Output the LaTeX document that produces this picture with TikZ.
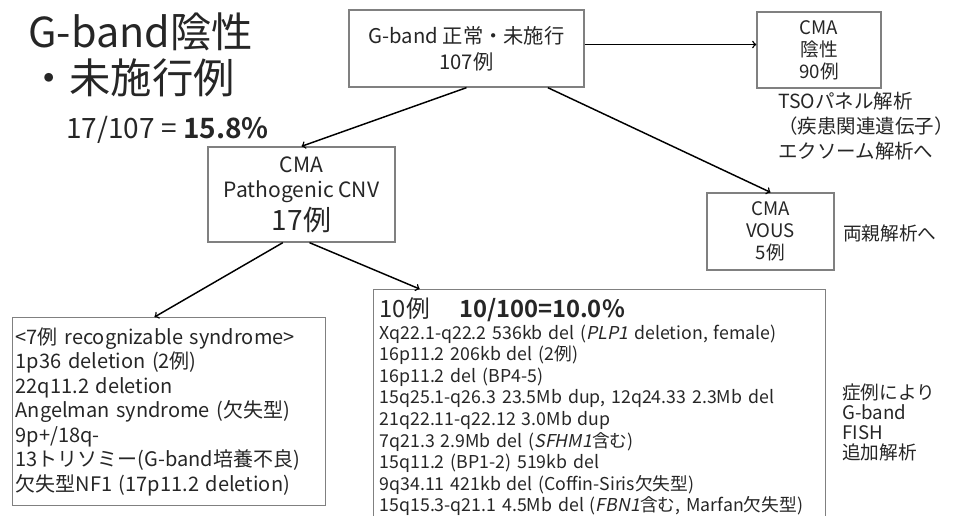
\documentclass[tikz,border=0pt]{standalone}
\usepackage{fontspec}
\setmainfont{Noto Sans CJK JP}[
  BoldFont={Noto Sans CJK JP Bold},
  ItalicFont={Noto Sans CJK JP},
  ItalicFeatures={FakeSlant=0.2}]
\newlength{\px}
\setlength{\px}{0.75pt}

\begin{document}
\begin{tikzpicture}[x=0.75pt, y=-0.75pt,
    box/.style={draw=black!50, line width=1pt, text=black!85, inner sep=0pt, align=center},
    note/.style={text=black!85, inner sep=0pt, align=left, anchor=west},
    link/.style={->, line width=1.1pt}]
  \useasboundingbox (0,0) rectangle (958,516);

  % headline
  \node[note, font=\fontsize{31}{35}\selectfont] (title) at (28,55) {G-band陰性\\・未施行例};
  \node[note, font=\fontsize{21}{25}\selectfont] (ratio) at (66,130) {17/107 = \textbf{15.8\%}};

  % upper boxes
  \node[box, minimum width=235\px, minimum height=77\px, font=\fontsize{15.2}{19.5}\selectfont] (root) at (466.5,48.5) {G-band 正常・未施行\\107例};
  \node[box, minimum width=124\px, minimum height=76\px, font=\fontsize{14}{16.5}\selectfont] (cmaneg) at (819,50) {CMA\\陰性\\90例};
  \node[note, font=\fontsize{14.6}{18.75}\selectfont] (tsonote) at (778,126) {TSOパネル解析\\（疾患関連遺伝子）\\エクソーム解析へ};
  \node[box, minimum width=187\px, minimum height=95\px, font=\fontsize{15.8}{19}\selectfont] (cnv) at (301.5,194.5) {CMA\\Pathogenic CNV\\[2pt]{\fontsize{21}{21}\selectfont 17例}};
  \node[box, minimum width=127\px, minimum height=77\px, font=\fontsize{14}{16.5}\selectfont] (vous) at (770.5,231.5) {CMA\\VOUS\\5例};
  \node[note, font=\fontsize{14}{17}\selectfont] (parent) at (843,233) {両親解析へ};

  % lower boxes
  \node[box, align=left, anchor=north west, text width=307\px, inner xsep=3\px, minimum height=188\px, font=\fontsize{15}{18.4}\selectfont] (syndrome) at (12,317) {<7例 recognizable syndrome>\\1p36 deletion (2例)\\22q11.2 deletion\\Angelman syndrome (欠失型)\\9p+/18q-\\13トリソミー(G-band培養不良)\\欠失型NF1 (17p11.2 deletion)};
  \node[box, align=left, anchor=north west, text width=440\px, inner xsep=6\px, inner ysep=6pt, font=\fontsize{13.3}{16.2}\selectfont] (others) at (373,289) {{\fontsize{17.8}{20}\selectfont 10例\hspace{22pt}\textbf{10/100=10.0\%}}\\Xq22.1-q22.2 536kb del (\textit{PLP1} deletion, female)\\16p11.2 206kb del (2例)\\16p11.2 del (BP4-5)\\15q25.1-q26.3 23.5Mb dup, 12q24.33 2.3Mb del\\21q22.11-q22.12 3.0Mb dup\\7q21.3 2.9Mb del (\textit{SFHM1}含む)\\15q11.2 (BP1-2) 519kb del\\9q34.11 421kb del (Coffin-Siris欠失型)\\15q15.3-q21.1 4.5Mb del (\textit{FBN1}含む, Marfan欠失型)\rule[-30pt]{0pt}{0pt}};
  \node[note, font=\fontsize{14}{14.8}\selectfont] (fishnote) at (842,422.5) {症例により\\G-band\\FISH\\追加解析};

  % connectors
  \draw[link] ([yshift=3pt]root.east) -- ([yshift=3pt]root.east -| cmaneg.west);
  \draw[link] (root.south) -- (cnv.north);
  \draw[link] ([xshift=61pt]root.south) -- (vous.north);
  \draw[link] ([xshift=-14pt]cnv.south) -- ([xshift=-11pt]syndrome.north);
  \draw[link] ([xshift=6pt]cnv.south) -- ([xshift=35pt]others.north west);
\end{tikzpicture}
\end{document}
